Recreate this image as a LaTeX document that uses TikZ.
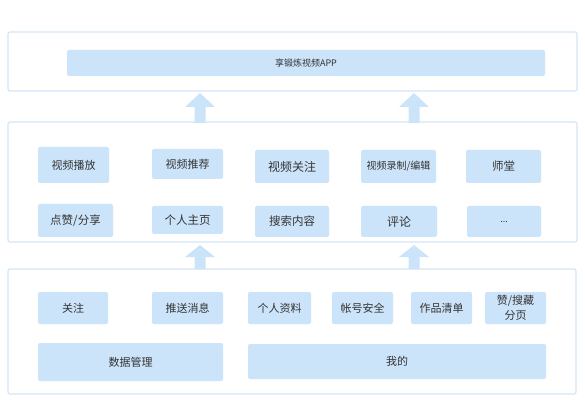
\documentclass[tikz,border=0pt]{standalone}
\usepackage{fontspec}
\setmainfont{Noto Sans CJK SC}
\definecolor{boxblue}{HTML}{CCE4FA}
\definecolor{lineblue}{HTML}{D3E5F7}
\definecolor{txtgray}{HTML}{333333}

\begin{document}
\begin{tikzpicture}[x=1pt,y=-1pt,font=\fontsize{11}{15}\selectfont,text=txtgray,
  layer/.style={draw=lineblue,line width=1.2pt,rounded corners=2pt,fill=white},
  item/.style={fill=boxblue,rounded corners=2pt,inner sep=0pt,align=center},
  uparrow/.style={fill=boxblue}]
  \useasboundingbox (0,0) rectangle (585,411);
  % the three layers
  \node[layer,minimum width=569pt,minimum height=59pt] (app) at (292.5,61.5) {};
  \node[layer,minimum width=569pt,minimum height=120pt] (func) at (292.5,182) {};
  \node[layer,minimum width=568pt,minimum height=125pt] (base) at (292,331.5) {};
  % top: the app itself
  \node[item,minimum width=478pt,minimum height=26pt,font=\fontsize{9}{11}\selectfont] (appbar) at (306,63) {享锻炼视频APP};
  % middle: functions
  \foreach \n/\x/\y/\w/\h/\s/\t in {play/73.5/165/71/36/11/视频播放, recom/187.5/164/71/30/11/视频推荐,
    follow/292/166.5/74/33/12/视频关注, record/398.5/166.5/75/33/10/{视频录制/编辑}, master/503.5/166.5/75/33/11.5/师堂,
    like/75.5/220.5/75/33/11.5/{点赞/分享}, home/187.5/220/71/28/11.5/个人主页, search/292/221.5/74/31/11.5/搜索内容,
    comment/399/221.5/76/31/12/评论, more/504/221.5/74/31/9/{.{}.{}.}} {
    \node[item,minimum width=\w pt,minimum height=\h pt,font=\fontsize{\s}{15}\selectfont] (\n) at (\x,\y) {\t};
  }
  % bottom: data and user
  \foreach \n/\x/\w/\t in {focus/73/70/关注, push/187.5/71/推送消息, profile/279.5/63/个人资料,
    account/362.5/61/帐号安全, works/441.5/61/作品清单, fav/515.5/61/{赞/搜藏\\分页}} {
    \node[item,minimum width=\w pt,minimum height=32pt] (\n) at (\x,308) {\t};
  }
  \node[item,minimum width=185pt,minimum height=38pt] (data) at (130.5,362) {数据管理};
  \node[item,minimum width=298pt,minimum height=35pt] (mine) at (397,361.5) {我的};
  % block arrows between the layers
  \foreach \x/\t/\m/\b in {200/93/107/123, 414/93/107/123, 200/245/257/269, 414/245/257/269} {
    \fill[uparrow] (\x-5.5,\b) -- (\x-5.5,\m) -- (\x-15,\m) -- (\x,\t) -- (\x+15,\m) -- (\x+5.5,\m) -- (\x+5.5,\b) -- cycle;
  }
\end{tikzpicture}
\end{document}
